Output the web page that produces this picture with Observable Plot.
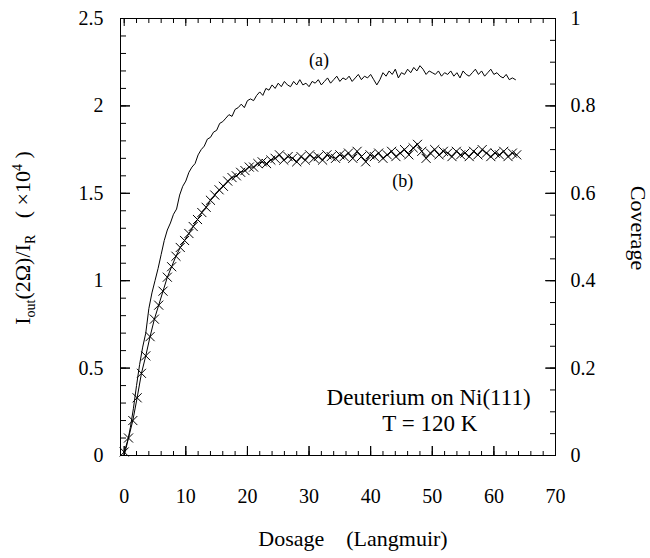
<!DOCTYPE html>
<html><head><meta charset="utf-8">
<script src="https://cdn.jsdelivr.net/npm/d3@7"></script>
<script src="https://cdn.jsdelivr.net/npm/@observablehq/plot@0.6"></script>
<style>
body{margin:0;background:#fff;}
#chart svg{display:block;}
</style></head><body><div id="chart"></div>
<script>
// Curve (a): noisy signal, sampled every 0.5 Langmuir from 0
const aStart = 0, aStep = 0.5;
const curveA = [0.00,0.07,0.16,0.27,0.40,0.52,0.62,0.70,0.84,0.93,
1.00,1.07,1.15,1.23,1.29,1.33,1.38,1.41,1.49,1.54,
1.57,1.62,1.65,1.67,1.72,1.75,1.77,1.81,1.82,1.85,
1.86,1.90,1.91,1.93,1.95,1.94,1.98,1.99,2.01,1.99,
2.03,2.04,2.03,2.06,2.08,2.06,2.10,2.09,2.12,2.10,
2.13,2.11,2.14,2.12,2.11,2.14,2.12,2.15,2.12,2.13,
2.11,2.14,2.13,2.15,2.12,2.14,2.16,2.13,2.15,2.17,
2.14,2.16,2.15,2.17,2.14,2.16,2.18,2.15,2.17,2.16,
2.18,2.15,2.12,2.15,2.19,2.17,2.20,2.18,2.21,2.16,
2.19,2.18,2.21,2.19,2.22,2.20,2.23,2.21,2.18,2.20,
2.19,2.18,2.20,2.17,2.19,2.18,2.20,2.17,2.19,2.16,
2.20,2.18,2.17,2.19,2.21,2.18,2.20,2.17,2.19,2.21,
2.18,2.19,2.17,2.16,2.18,2.15,2.16,2.15];
// Curve (b): marked series, sampled every 0.7 Langmuir from 0
const bStart = 0, bStep = 0.7;
const curveB = [0.02,0.10,0.20,0.33,0.47,0.57,0.68,0.78,0.86,0.94,
1.02,1.08,1.14,1.19,1.23,1.27,1.31,1.35,1.39,1.42,
1.46,1.49,1.52,1.54,1.57,1.59,1.60,1.62,1.63,1.65,
1.65,1.67,1.68,1.67,1.69,1.70,1.72,1.69,1.71,1.70,
1.68,1.71,1.69,1.72,1.70,1.71,1.69,1.72,1.71,1.70,
1.72,1.71,1.73,1.70,1.74,1.71,1.68,1.72,1.71,1.73,
1.70,1.72,1.74,1.71,1.73,1.75,1.72,1.76,1.78,1.74,
1.70,1.73,1.75,1.72,1.74,1.73,1.71,1.74,1.72,1.73,
1.71,1.74,1.72,1.75,1.73,1.71,1.73,1.72,1.74,1.71,
1.73,1.72];
const xTicks = [0,10,20,30,40,50,60,70];
const xMinorStep = 2;
const yTicks = [0,0.5,1,1.5,2,2.5];
const yMinorStep = 0.1;
const coverageTicks = [0,0.2,0.4,0.6,0.8,1];
const coverageMinorStep = 0.05;
const coverageFull = 2.5; // left-axis value equal to coverage 1
const annotations = [
  {label: "(a)", x: 31.6, y: 2.26},
  {label: "(b)", x: 45.2, y: 1.57}
];
const annotations2 = [
  {label: "Deuterium on Ni(111)", x: 49.4, y: 0.33},
  {label: "T = 120 K", x: 49.6, y: 0.185}
];
const xLabel = "Dosage\u00A0\u00A0\u00A0\u00A0(Langmuir)";
const rightLabel = "Coverage";

// layout
const W = 650, H = 558, mL = 120, mR = 95, mT = 18, mB = 103;
const xDomain = [-0.6, 70], yDomain = [0, 2.5];
const pxX = (W - mL - mR) / (xDomain[1] - xDomain[0]);
const pxY = (H - mT - mB) / (yDomain[1] - yDomain[0]);

const aData = curveA.map((v, i) => ({x: aStart + i * aStep, y: v}));
const bData = curveB.map((v, i) => ({x: bStart + i * bStep, y: v}));
const xMinor = d3.range(0, 70.001, xMinorStep);
const yMinor = d3.range(0, 2.5001, yMinorStep);
const covMinor = d3.range(0, 1.0001, coverageMinorStep).map(c => c * coverageFull);
const covMajor = coverageTicks.map(c => c * coverageFull);
const blank = () => "";
const font = "Liberation Serif";

// inward tick marks as rules (length given in pixels, converted via the scale factors)
const tickRulesX = (vals, atY, lenPx, dir) =>
  Plot.ruleX(vals, {x: d => d, y1: atY, y2: atY + dir * lenPx / pxY, stroke: "black", strokeWidth: 1});
const tickRulesY = (vals, atX, lenPx, dir) =>
  Plot.ruleY(vals, {y: d => d, x1: atX, x2: atX + dir * lenPx / pxX, stroke: "black", strokeWidth: 1});

const svg = Plot.plot({
  width: W, height: H,
  marginLeft: mL, marginRight: mR, marginTop: mT, marginBottom: mB,
  style: {fontFamily: font, fontSize: "20px"},
  x: {domain: xDomain},
  y: {domain: yDomain},
  marks: [
    Plot.frame({stroke: "black", strokeWidth: 1}),
    // ticks (inward)
    tickRulesX(xMinor, yDomain[0], 4, 1),
    tickRulesX(xTicks, yDomain[0], 9, 1),
    tickRulesX(xMinor, yDomain[1], 5, -1),
    tickRulesX(xTicks, yDomain[1], 8, -1),
    tickRulesY(yMinor, xDomain[0], 6, 1),
    tickRulesY(yTicks, xDomain[0], 10, 1),
    tickRulesY(covMinor, xDomain[1], 5, -1),
    tickRulesY(covMajor, xDomain[1], 10, -1),
    // axis labels
    Plot.axisX(xTicks, {anchor: "bottom", tickSize: -9, tickPadding: 42, label: null, tickFormat: d => String(d)}),
    Plot.axisY(yTicks, {anchor: "left", tickSize: -10, tickPadding: 27, label: null, tickFormat: d => String(d)}),
    Plot.axisY(covMajor, {anchor: "right", tickSize: -10, tickPadding: 25, label: null,
      tickFormat: d => String(+(d / coverageFull).toFixed(2))}),
    // data
    Plot.line(aData, {x: "x", y: "y", stroke: "black", strokeWidth: 1}),
    Plot.line(bData, {x: "x", y: "y", stroke: "black", strokeWidth: 1}),
    Plot.dot(bData, {x: "x", y: "y", symbol: "times", r: 4.2, stroke: "black", strokeWidth: 1}),
    // annotations
    Plot.text(annotations, {x: "x", y: "y", text: "label", fontSize: 18, fill: "black"}),
    Plot.text(annotations2, {x: "x", y: "y", text: "label", fontSize: 23, fill: "black"}),
    Plot.text([xLabel], {frameAnchor: "bottom", dy: 90, dx: 15, fontSize: 22, fill: "black"})
  ]
});
document.getElementById("chart").appendChild(svg);

const s = d3.select(svg);
// left rotated label with sub/superscripts
const yl = s.append("text")
  .attr("transform", "translate(30,238) rotate(-90)")
  .attr("text-anchor", "middle")
  .attr("font-family", font)
  .attr("font-size", 22)
  .attr("fill", "black");
yl.append("tspan").text("I");
yl.append("tspan").attr("font-size", 14).attr("dy", 5).text("out");
yl.append("tspan").attr("dy", -5).text("(2\u03A9)/I");
yl.append("tspan").attr("font-size", 14).attr("dy", 5).text("R");
yl.append("tspan").attr("dy", -5).text("\u00A0\u00A0\u00A0(\u00A0\u00D710");
yl.append("tspan").attr("font-size", 14).attr("dy", -8).text("4");
yl.append("tspan").attr("dy", 8).text("\u00A0)");
// right label
s.append("text")
  .attr("transform", "translate(636,228) rotate(90)")
  .attr("text-anchor", "middle")
  .attr("dominant-baseline", "middle")
  .attr("font-family", font)
  .attr("font-size", 22)
  .attr("fill", "black")
  .text(rightLabel);
</script></body></html>
